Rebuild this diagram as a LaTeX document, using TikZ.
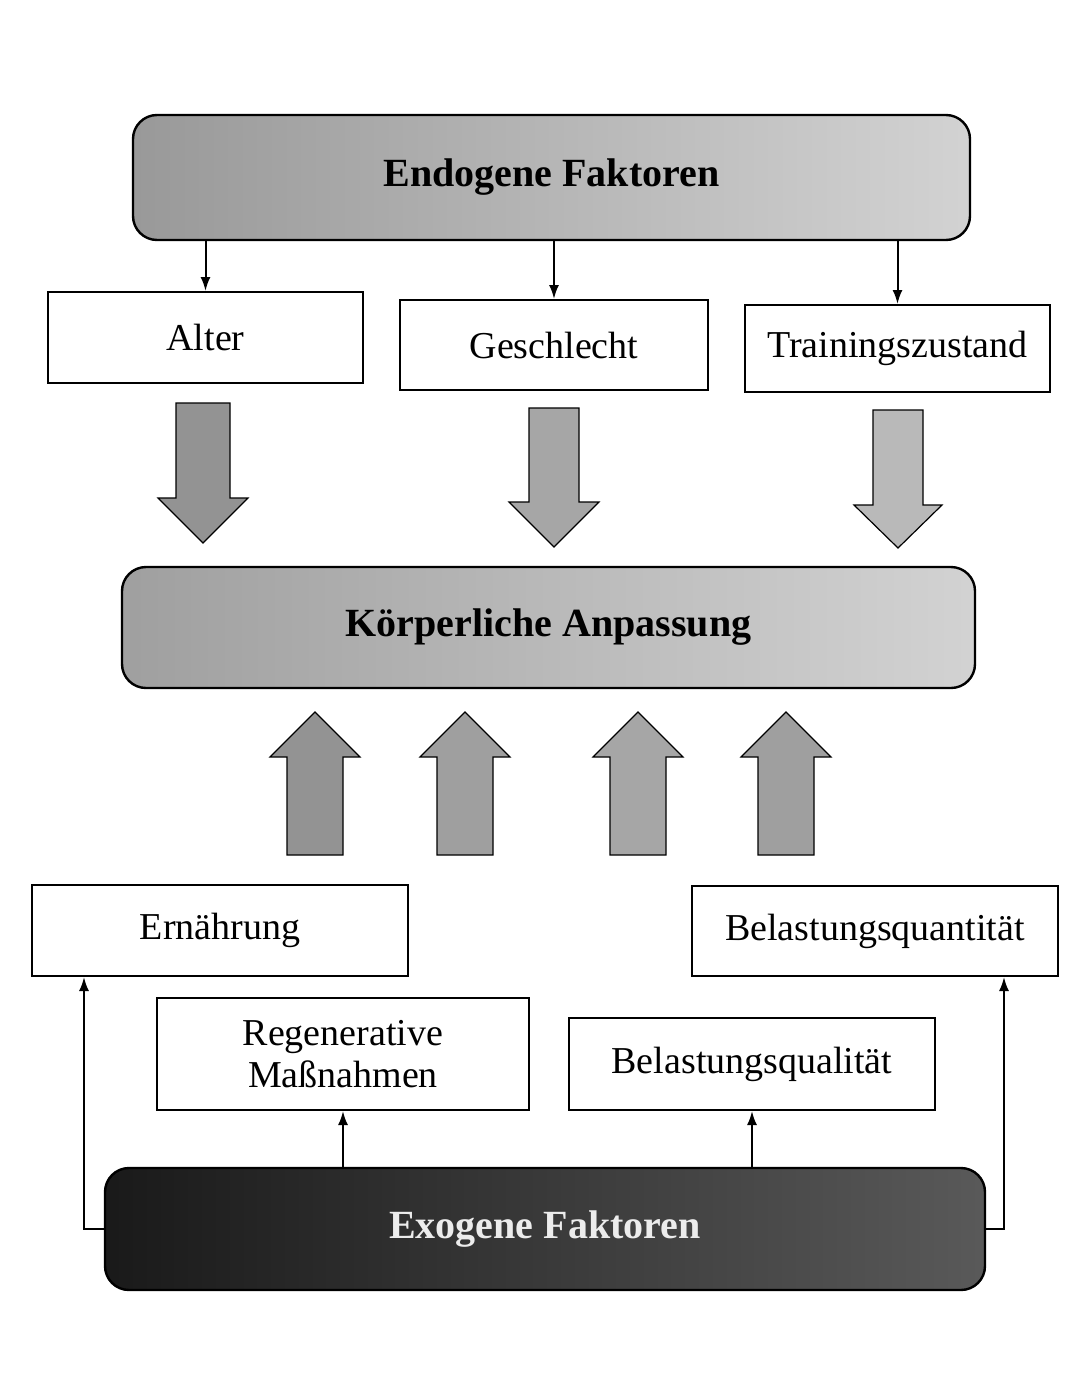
\documentclass[tikz,border=0pt]{standalone}
\usepackage{fontspec}
\setmainfont{Liberation Serif}
\usetikzlibrary{arrows.meta}
\newcommand\bigdownarr[7]{% cx top hs tip sw hw color
  \fill[#7,draw=black,line width=0.6pt] ({#1-#5},#2) -- ({#1+#5},#2) -- ({#1+#5},#3) -- ({#1+#6},#3) -- (#1,#4) -- ({#1-#6},#3) -- ({#1-#5},#3) -- cycle;}
\newcommand\bigupparr[7]{% cx bottom hs tip sw hw color
  \fill[#7,draw=black,line width=0.6pt] ({#1-#5},#2) -- ({#1+#5},#2) -- ({#1+#5},#3) -- ({#1+#6},#3) -- (#1,#4) -- ({#1-#6},#3) -- ({#1-#5},#3) -- cycle;}
\begin{document}
\begin{tikzpicture}[x=0.5pt,y=-0.5pt,
  box/.style={draw,line width=1pt,fill=white,inner sep=0pt,align=center,
    font=\fontsize{19}{21}\selectfont},
  head/.style={draw,line width=1.2pt,rounded corners=12pt,inner sep=0pt,
    font=\fontsize{20}{22}\selectfont\bfseries},
  conn/.style={line width=1pt,-{Latex[length=7pt,width=5pt]}}]
\useasboundingbox (0,0) rectangle (1080,1397);
\fill[white] (0,0) rectangle (1080,1397);

\node[head,left color=gray!80,right color=gray!35,minimum width=418.5pt,minimum height=62.5pt] (endo) at (551.5,177.5) {\raisebox{-2pt}{Endogene Faktoren}};
\node[box,minimum width=157.5pt,minimum height=45.5pt] (alter) at (205.5,337.5) {Alter};
\node[box,minimum width=154pt,minimum height=45pt] (geschl) at (554,345) {Geschlecht};
\node[box,minimum width=152.5pt,minimum height=43.5pt] (train) at (897.5,348.5) {Trainingszustand};

\draw[conn] (endo.south -| alter) -- (alter.north);
\draw[conn] (endo.south -| geschl) -- (geschl.north);
\draw[conn] (endo.south -| train) -- (train.north);

\bigdownarr{203}{403}{498}{543}{27}{45}{gray!85}
\bigdownarr{554}{408}{502}{547}{25}{45}{gray!70}
\bigdownarr{898}{410}{505}{548}{25}{44}{gray!55}

\node[head,left color=gray!75,right color=gray!35,minimum width=426.5pt,minimum height=60.5pt] (koerp) at (548.5,627.5) {\raisebox{-2pt}{Körperliche Anpassung}};

\bigupparr{315}{855}{757}{712}{28}{45}{gray!85}
\bigupparr{465}{855}{757}{712}{28}{45}{gray!75}
\bigupparr{638}{855}{757}{712}{28}{45}{gray!70}
\bigupparr{786}{855}{757}{712}{28}{45}{gray!75}

\node[box,minimum width=188pt,minimum height=45.5pt] (ern) at (220,930.5) {Ernährung};
\node[box,minimum width=183pt,minimum height=45pt] (quant) at (875,931) {Belastungsquantität};
\node[box,minimum width=186pt,minimum height=56pt] (reg) at (343,1054) {Regenerative\\Maßnahmen};
\node[box,minimum width=183pt,minimum height=46pt] (qual) at (752,1064) {Belastungsqualität};

\node[head,left color=black!90,right color=black!65,text=gray!15,minimum width=440pt,minimum height=61pt] (exo) at (545,1229) {\raisebox{-2pt}{Exogene Faktoren}};

\draw[conn] (exo.west) -| ([xshift=26.5pt]ern.south west);
\draw[conn] (exo.east) -| ([xshift=-27.5pt]quant.south east);
\draw[conn] (exo.north -| reg) -- (reg.south);
\draw[conn] (exo.north -| qual) -- (qual.south);
\end{tikzpicture}
\end{document}
